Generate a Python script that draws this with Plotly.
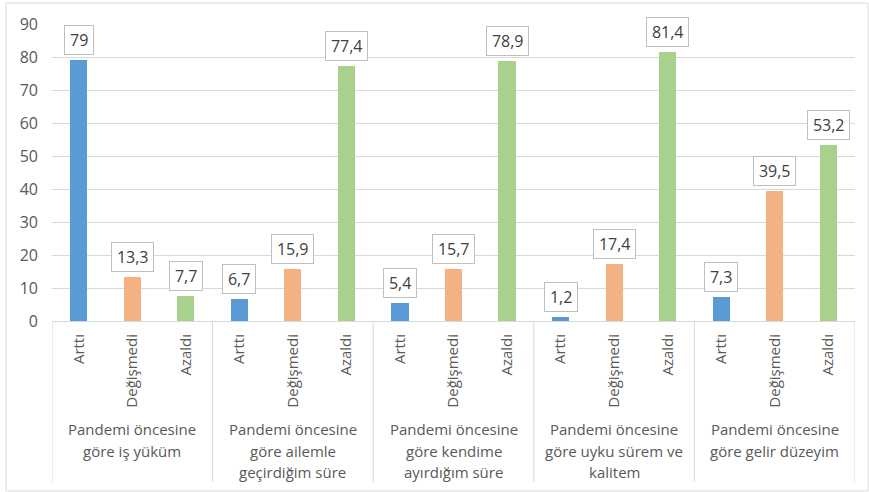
import plotly.graph_objects as go

groups = [
    ["Pandemi öncesine", "göre iş yüküm"],
    ["Pandemi öncesine", "göre ailemle", "geçirdiğim süre"],
    ["Pandemi öncesine", "göre kendime", "ayırdığım süre"],
    ["Pandemi öncesine", "göre uyku sürem ve", "kalitem"],
    ["Pandemi öncesine", "göre gelir düzeyim"],
]
subcats = ["Arttı", "Değişmedi", "Azaldı"]
arttı = [79, 6.7, 5.4, 1.2, 7.3]
degismedi = [13.3, 15.9, 15.7, 17.4, 39.5]
azaldı = [7.7, 77.4, 78.9, 81.4, 53.2]
series = [arttı, degismedi, azaldı]
colors = ["#5B9BD5", "#F4B183", "#A9D18E"]

FONT = "Open Sans"
TXT = "#595959"
LBL = 16

fig = go.Figure()
ng = len(groups)
ns = len(subcats)
for j, (vals, col) in enumerate(zip(series, colors)):
    xs = [i * ns + j for i in range(ng)]
    fig.add_trace(go.Bar(x=xs, y=vals, marker=dict(color=col, line=dict(width=0)),
                         width=0.32, name=subcats[j], showlegend=False, hoverinfo="y"))
    for x, v in zip(xs, vals):
        txt = (f"{v:g}").replace(".", ",")
        tw = sum(0.25 if c == "," else 0.572 for c in txt) * LBL
        fig.add_annotation(x=x, y=v, text=txt, showarrow=False, yanchor="bottom",
                           yshift=5, bgcolor="white", bordercolor="#BFBFBF",
                           borderwidth=1, borderpad=3, width=tw + 4,
                           font=dict(family=FONT, size=LBL, color="#404040"))

tickvals = [i * ns + j for i in range(ng) for j in range(ns)]
ticktext = [subcats[j] for i in range(ng) for j in range(ns)]

L, R, T, B = 52, 855, 24, 321
W, H = 869, 492
pw, ph = R - L, B - T

def px2paper_x(px):
    return (px - L) / pw

def px2paper_y(py):
    return (B - py) / ph

# group labels (one annotation per line)
for i, g in enumerate(groups):
    for k, line in enumerate(g):
        fig.add_annotation(x=i * ns + 1, y=px2paper_y(429 + 21.5 * k), xref="x", yref="paper",
                           text=line, showarrow=False, yanchor="middle", align="center",
                           font=dict(family=FONT, size=15, color=TXT))
# dividers
for i in range(ng + 1):
    fig.add_shape(type="line", x0=i * ns - 0.5, x1=i * ns - 0.5, xref="x", yref="paper",
                  y0=0, y1=px2paper_y(482), line=dict(color="#D9D9D9", width=1))
# outer border
fig.add_shape(type="rect", xref="paper", yref="paper",
              x0=px2paper_x(6), x1=px2paper_x(868), y0=px2paper_y(491), y1=px2paper_y(3),
              line=dict(color="#D9D9D9", width=1), layer="below")

fig.update_layout(
    width=W, height=H,
    margin=dict(l=L, r=W - R, t=T, b=H - B),
    paper_bgcolor="white", plot_bgcolor="white",
    bargap=0,
    font=dict(family=FONT, size=15, color=TXT),
    xaxis=dict(range=[-0.5, ng * ns - 0.5], tickvals=tickvals, ticktext=ticktext,
               tickangle=-90, showgrid=False, showline=True, linecolor="#D9D9D9",
               ticks="", ticklabelstandoff=6, tickfont=dict(family=FONT, size=15, color=TXT),
               zeroline=False, fixedrange=True),
    yaxis=dict(range=[0, 90], dtick=10, showgrid=True, gridcolor="#D9D9D9",
               zeroline=False, showline=False, ticks="", ticklabelstandoff=13,
               tickfont=dict(family=FONT, size=16, color=TXT), fixedrange=True),
)

fig.write_html("out.html")
